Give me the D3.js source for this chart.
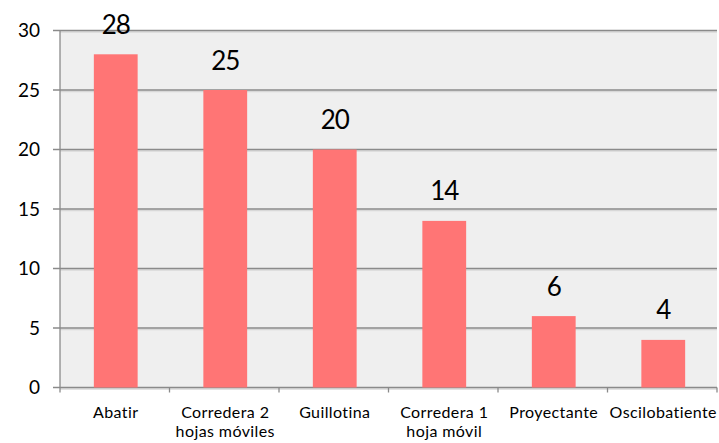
<!DOCTYPE html>
<html>
<head>
<meta charset="utf-8">
<script src="https://cdn.jsdelivr.net/npm/d3@7"></script>
<style>
  html, body { margin: 0; padding: 0; background: #fff; }
  svg { display: block; font-family: Lato, "Open Sans", sans-serif; }
</style>
</head>
<body>
<svg id="chart" width="719" height="443"></svg>
<script>
// Window types and their counts
const categories = [
  ["Abatir"],
  ["Corredera 2", "hojas móviles"],
  ["Guillotina"],
  ["Corredera 1", "hoja móvil"],
  ["Proyectante"],
  ["Oscilobatiente"]
];
const values = [28, 25, 20, 14, 6, 4];
const yTicks = [0, 5, 10, 15, 20, 25, 30];

const svg = d3.select("#chart");
const margin = { left: 60, right: 2, top: 30.5, bottom: 55.5 };
const W = 719, H = 443;

const x = d3.scaleBand()
  .domain(d3.range(categories.length))
  .range([margin.left, W - margin.right])
  .padding(0);
const y = d3.scaleLinear().domain([0, 30]).range([H - margin.bottom, margin.top]);

// plot background
svg.append("rect")
  .attr("x", margin.left).attr("y", margin.top)
  .attr("width", W - margin.right - margin.left)
  .attr("height", y(0) - margin.top)
  .attr("fill", "#efefef");

// gridlines with a faint shadow below
const grid = svg.append("g");
yTicks.forEach(t => {
  grid.append("line")
    .attr("x1", margin.left).attr("x2", W - margin.right)
    .attr("y1", y(t) + 1.5).attr("y2", y(t) + 1.5)
    .attr("stroke", "#d8d8d8").attr("stroke-width", 1.5);
  grid.append("line")
    .attr("x1", margin.left - 7).attr("x2", W - margin.right)
    .attr("y1", y(t)).attr("y2", y(t))
    .attr("stroke", "#8a8a8a").attr("stroke-width", 1.3);
});

// y axis line
svg.append("line")
  .attr("x1", margin.left).attr("x2", margin.left)
  .attr("y1", margin.top).attr("y2", y(0))
  .attr("stroke", "#8a8a8a").attr("stroke-width", 1.3);

// y tick labels
svg.append("g").selectAll("text").data(yTicks).join("text")
  .attr("x", 40).attr("y", d => y(d))
  .attr("dy", "0.35em")
  .attr("text-anchor", "end")
  .attr("font-size", 19)
  .attr("fill", "#000")
  .text(d => d);

// category ticks
svg.append("g").selectAll("line").data(d3.range(categories.length + 1)).join("line")
  .attr("x1", i => i < categories.length ? x(i) : x(i - 1) + x.bandwidth())
  .attr("x2", i => i < categories.length ? x(i) : x(i - 1) + x.bandwidth())
  .attr("y1", y(0)).attr("y2", y(0) + 5)
  .attr("stroke", "#8a8a8a").attr("stroke-width", 1.3);

// bars
const barW = x.bandwidth() * 0.4;
const barCx = i => x(i) + x.bandwidth() / 2 + 1;
svg.append("g").selectAll("rect").data(values).join("rect")
  .attr("x", (d, i) => barCx(i) - barW / 2)
  .attr("y", d => y(d))
  .attr("width", barW)
  .attr("height", d => y(0) - y(d))
  .attr("fill", "#ff7575");

// value labels
svg.append("g").selectAll("text").data(values).join("text")
  .attr("x", (d, i) => barCx(i))
  .attr("y", d => y(d) - 20.5)
  .attr("text-anchor", "middle")
  .attr("font-size", 26)
  .attr("letter-spacing", -1)
  .attr("fill", "#000")
  .text(d => d);

// category labels
const cl = svg.append("g").selectAll("text").data(categories).join("text")
  .attr("text-anchor", "middle")
  .attr("font-size", 16)
  .attr("letter-spacing", 0.4)
  .attr("fill", "#000");
cl.each(function(lines, i) {
  d3.select(this).selectAll("tspan").data(lines).join("tspan")
    .attr("x", barCx(i))
    .attr("y", (d, j) => 418 + j * 19)
    .text(d => d);
});
</script>
</body>
</html>
